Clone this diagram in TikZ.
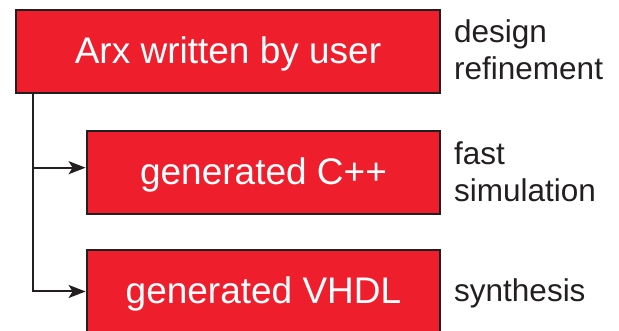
\documentclass[tikz,border=0pt]{standalone}
\usepackage{fontspec}
\setmainfont{Liberation Sans}
\usetikzlibrary{arrows.meta}
\definecolor{boxred}{RGB}{238,30,45}
\definecolor{ink}{RGB}{35,31,32}
\begin{document}
\begin{tikzpicture}[x=1pt,y=1pt,
  redbox/.style={draw=ink, line width=2.8pt, fill=boxred, text=white, inner sep=0pt,
    minimum height=83pt, text height=30pt, text depth=5pt,
    font=\fontsize{37}{44}\selectfont},
  sidelabel/.style={anchor=base west, align=left, inner sep=0pt, text=ink,
    font=\fontsize{31.5}{37}\selectfont},
  conn/.style={draw=ink, line width=2pt, -{Stealth[length=17pt,width=13pt,inset=4pt]}}]
\useasboundingbox (0,0) rectangle (619,331);
\clip (0,0) rectangle (619,331);
\node[redbox, minimum width=424pt] (arx) at (228,279.5) {Arx written by user};
\node[redbox, minimum width=353pt] (cpp) at (263.5,158.5) {generated C++};
\node[redbox, minimum width=353pt] (vhdl) at (263.5,39.5) {generated VHDL};
\node[sidelabel] (l1) at (454,251) {design\\refinement};
\node[sidelabel] (l2) at (454,129) {fast\\simulation};
\node[sidelabel] (l3) at (454,29) {synthesis};
\coordinate (trunk) at (33,238);
\coordinate (branch) at (33,163.3);
\draw[conn] (trunk) |- (vhdl.west);
\draw[conn] (branch) -- (branch -| cpp.west);
\end{tikzpicture}
\end{document}
